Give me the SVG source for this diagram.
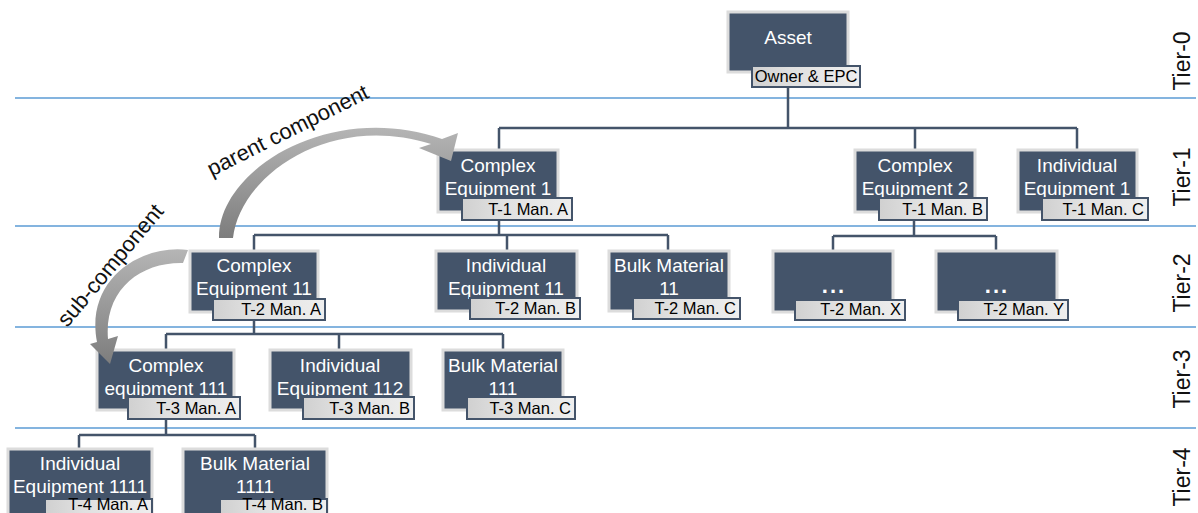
<svg xmlns="http://www.w3.org/2000/svg" width="1198" height="513" viewBox="0 0 1198 513">
<defs>
<linearGradient id="lbl" x1="0" y1="0" x2="1" y2="0">
<stop offset="0" stop-color="#d0d0d0"/>
<stop offset="0.35" stop-color="#e0e0e0"/>
<stop offset="1" stop-color="#eeeeee"/>
</linearGradient>
<linearGradient id="arr" x1="0" y1="0" x2="0" y2="1">
<stop offset="0" stop-color="#b5b5b5"/>
<stop offset="1" stop-color="#7d7d7d"/>
</linearGradient>
</defs>
<style>
.box{fill:#44546a;stroke:#dcdcdc;stroke-width:3}
.lb{fill:url(#lbl);stroke:#44546a;stroke-width:2}
.t{font-family:"Liberation Sans",Arial,sans-serif;font-size:19px;fill:#ffffff;text-anchor:middle}
.d{font-family:"Liberation Sans",Arial,sans-serif;font-size:22px;font-weight:bold;fill:#ffffff;text-anchor:middle;letter-spacing:2px}
.l{font-family:"Liberation Sans",Arial,sans-serif;font-size:16.5px;fill:#000000;text-anchor:end}
.tier{font-family:"Liberation Sans",Arial,sans-serif;font-size:23px;fill:#111111;text-anchor:middle}
.cap{font-family:"Liberation Sans",Arial,sans-serif;font-size:22px;fill:#111111;text-anchor:middle}
.grid{stroke:#5b9bd5;stroke-width:1.5}
.c{stroke:#44546a;stroke-width:2.5;fill:none}
.ar{fill:url(#arr)}
</style>
<rect width="1198" height="513" fill="#ffffff"/>
<g id="tiers">
<line class="grid" x1="15" y1="98" x2="1196" y2="98"/>
<line class="grid" x1="15" y1="226" x2="1196" y2="226"/>
<line class="grid" x1="15" y1="327" x2="1196" y2="327"/>
<line class="grid" x1="15" y1="428" x2="1196" y2="428"/>
<text class="tier" transform="translate(1190,61) rotate(-90)">Tier-0</text>
<text class="tier" transform="translate(1190,177) rotate(-90)">Tier-1</text>
<text class="tier" transform="translate(1190,283) rotate(-90)">Tier-2</text>
<text class="tier" transform="translate(1190,379) rotate(-90)">Tier-3</text>
<text class="tier" transform="translate(1190,477) rotate(-90)">Tier-4</text>
</g>
<g id="connectors">
<path class="c" d="M788,87V128M499,128H1077M499,128V150M915,128V150M1077,128V150"/>
<path class="c" d="M499,220V235M254,235H668M254,235V251M507,235V251M668,235V251"/>
<path class="c" d="M914,220V236M833,236H996M833,236V251M996,236V251"/>
<path class="c" d="M254,320V334M166,334H503M166,334V350M339,334V350M503,334V350"/>
<path class="c" d="M166,419V435M79,435H255M79,435V449M255,435V449"/>
</g>
<g id="n-asset">
<rect class="box" x="728" y="12" width="120" height="60"/>
<text class="t" x="788" y="44">Asset</text>
<rect class="lb" x="752" y="66" width="108" height="21"/>
<text class="l" x="806" y="82" style="text-anchor:middle">Owner &amp; EPC</text>
</g>
<g id="n-ce1">
<rect class="box" x="438" y="150" width="120" height="62"/>
<text class="t" x="498" y="172">Complex</text>
<text class="t" x="498" y="195">Equipment 1</text>
<rect class="lb" x="462" y="198" width="110" height="22"/>
<text class="l" x="568" y="215">T-1 Man. A</text>
</g>
<g id="n-ce2">
<rect class="box" x="855" y="150" width="120" height="62"/>
<text class="t" x="915" y="172">Complex</text>
<text class="t" x="915" y="195">Equipment 2</text>
<rect class="lb" x="879" y="198" width="108" height="22"/>
<text class="l" x="983" y="215">T-1 Man. B</text>
</g>
<g id="n-ie1">
<rect class="box" x="1018" y="150" width="119" height="62"/>
<text class="t" x="1077" y="172">Individual</text>
<text class="t" x="1077" y="195">Equipment 1</text>
<rect class="lb" x="1042" y="198" width="106" height="22"/>
<text class="l" x="1144" y="215">T-1 Man. C</text>
</g>
<g id="n-ce11">
<rect class="box" x="190" y="251" width="128" height="61"/>
<text class="t" x="254" y="272">Complex</text>
<text class="t" x="254" y="295">Equipment 11</text>
<rect class="lb" x="213" y="299" width="112" height="21"/>
<text class="l" x="321" y="315">T-2 Man. A</text>
</g>
<g id="n-ie11">
<rect class="box" x="436" y="251" width="141" height="60"/>
<text class="t" x="506" y="272">Individual</text>
<text class="t" x="506" y="295">Equipment 11</text>
<rect class="lb" x="470" y="298" width="110" height="21"/>
<text class="l" x="576" y="314">T-2 Man. B</text>
</g>
<g id="n-bm11">
<rect class="box" x="609" y="251" width="120" height="60"/>
<text class="t" x="669" y="272">Bulk Material</text>
<text class="t" x="669" y="295">11</text>
<rect class="lb" x="633" y="298" width="107" height="21"/>
<text class="l" x="736" y="314">T-2 Man. C</text>
</g>
<g id="n-x">
<rect class="box" x="773" y="251" width="120" height="61"/>
<text class="d" x="834" y="293">...</text>
<rect class="lb" x="795" y="300" width="110" height="20"/>
<text class="l" x="901" y="315">T-2 Man. X</text>
</g>
<g id="n-y">
<rect class="box" x="936" y="251" width="121" height="61"/>
<text class="d" x="997" y="293">...</text>
<rect class="lb" x="958" y="300" width="110" height="20"/>
<text class="l" x="1064" y="315">T-2 Man. Y</text>
</g>
<g id="n-ce111">
<rect class="box" x="97" y="350" width="137" height="60"/>
<text class="t" x="166" y="372">Complex</text>
<text class="t" x="166" y="395">equipment 111</text>
<rect class="lb" x="128" y="397" width="112" height="22"/>
<text class="l" x="236" y="414">T-3 Man. A</text>
</g>
<g id="n-ie112">
<rect class="box" x="270" y="350" width="141" height="60"/>
<text class="t" x="340" y="372">Individual</text>
<text class="t" x="340" y="395">Equipment 112</text>
<rect class="lb" x="303" y="397" width="111" height="22"/>
<text class="l" x="410" y="414">T-3 Man. B</text>
</g>
<g id="n-bm111">
<rect class="box" x="443" y="350" width="120" height="60"/>
<text class="t" x="503" y="372">Bulk Material</text>
<text class="t" x="503" y="395">111</text>
<rect class="lb" x="467" y="397" width="108" height="22"/>
<text class="l" x="571" y="414">T-3 Man. C</text>
</g>
<g id="n-ie1111">
<rect class="box" x="8" y="449" width="144" height="70"/>
<text class="t" x="80" y="470">Individual</text>
<text class="t" x="80" y="493">Equipment 1111</text>
<rect class="lb" x="45" y="499" width="107" height="22"/>
<text class="l" x="148" y="510">T-4 Man. A</text>
</g>
<g id="n-bm1111">
<rect class="box" x="183" y="449" width="144" height="70"/>
<text class="t" x="255" y="470">Bulk Material</text>
<text class="t" x="255" y="493">1111</text>
<rect class="lb" x="220" y="499" width="107" height="22"/>
<text class="l" x="323" y="510">T-4 Man. B</text>
</g>
<g id="arrow-parent">
<path class="ar" d="M219,238 C218,170 330,100 442,139 L458,133 L451,161 L419,148 L431,144 C330,112 240,175 233,238 Z"/>
<text class="cap" transform="translate(291,137) rotate(-26.6)">parent component</text>
</g>
<g id="arrow-sub">
<path class="ar" d="M188,250 C140,244 85,280 97,342 L90,344 L110,364 L118,336 L108,339 C104,290 140,262 183,263 Z"/>
<text class="cap" transform="translate(116,270) rotate(-50)">sub-component</text>
</g>
</svg>
